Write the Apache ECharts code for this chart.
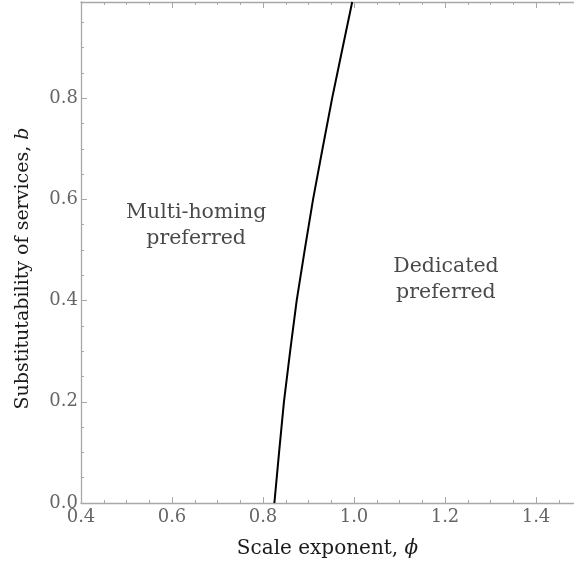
<!DOCTYPE html>
<html>
<head>
<meta charset="utf-8">
<script src="https://cdn.jsdelivr.net/npm/echarts@6/dist/echarts.min.js"></script>
<style>
  html, body { margin: 0; padding: 0; background: #fff; }
  #main { width: 574px; height: 571px; }
</style>
</head>
<body>
<div id="main"></div>
<script>
// boundary curve, b (substitutability) vs phi (scale exponent)
var boundaryB = [0, 0.2, 0.4, 0.6, 0.8, 0.99];
var boundaryPhi = [0.825, 0.846, 0.874, 0.910, 0.952, 0.996];

// region labels
var regionNames = ["Multi-homing\npreferred", "Dedicated\npreferred"];
var regionPhi = [0.653, 1.202];
var regionB = [0.549, 0.441];

var xMin = 0.4, xMax = 1.4835, yMin = 0, yMax = 0.99;
var FONT = "DejaVu Serif";
var axisGray = "#a8a8a8";
var labelGray = "#666";

var dom = document.getElementById("main");
var myChart = echarts.init(dom, null, { renderer: "canvas" });

function frameAxis(pos, min, max, interval, tickLen, withLine, withLabel) {
  return {
    type: "value",
    position: pos,
    min: min,
    max: max,
    interval: interval,
    axisLine: { show: withLine, onZero: false, lineStyle: { color: axisGray, width: 1.3 } },
    axisTick: { show: true, inside: true, length: tickLen, lineStyle: { color: axisGray, width: 1 } },
    axisLabel: {
      show: withLabel,
      showMaxLabel: false,
      margin: 3,
      fontFamily: FONT,
      fontSize: 18,
      color: labelGray,
      formatter: function (v) { return v.toFixed(1); },
    },
    splitLine: { show: false },
  };
}

var curve = [];
for (var i = 0; i < boundaryB.length; i++) {
  curve.push([boundaryPhi[i], boundaryB[i]]);
}
var labels = [];
for (var j = 0; j < regionNames.length; j++) {
  labels.push({ name: regionNames[j], value: [regionPhi[j], regionB[j]] });
}

function nameStyle(size) {
  return {
    fontFamily: FONT, fontSize: size, color: "#1a1a1a",
    rich: { i: { fontFamily: FONT, fontStyle: "italic", fontSize: size, color: "#1a1a1a" } },
  };
}

var xMain = frameAxis("bottom", xMin, xMax, 0.2, 6, true, true);
xMain.axisLabel.margin = 5;
xMain.name = "Scale exponent, {i|ϕ}";
xMain.nameLocation = "middle";
xMain.nameGap = 36;
xMain.nameTextStyle = nameStyle(20);

var yMain = frameAxis("left", yMin, yMax, 0.2, 6, true, true);
yMain.name = "Substitutability of services, {i|b}";
yMain.nameLocation = "middle";
yMain.nameGap = 48;
yMain.nameTextStyle = echarts.util.merge({ padding: [0, 32, 0, 0] }, nameStyle(19));

option = {
  animation: false,
  backgroundColor: "#fff",
  grid: { left: 81, right: 0, top: 2, bottom: 68, containLabel: false },
  xAxis: [
    xMain,
    frameAxis("bottom", xMin, xMax, 0.05, 3, false, false),
    frameAxis("top", xMin, xMax, 0.2, 6, true, false),
    frameAxis("top", xMin, xMax, 0.05, 3, false, false),
  ],
  yAxis: [
    yMain,
    frameAxis("left", yMin, yMax, 0.05, 3, false, false),
  ],
  series: [
    {
      type: "line",
      xAxisIndex: 0,
      yAxisIndex: 0,
      data: curve,
      symbol: "none",
      smooth: 0.12,
      lineStyle: { color: "#000", width: 2 },
    },
    {
      type: "scatter",
      xAxisIndex: 0,
      yAxisIndex: 0,
      data: labels,
      symbolSize: 0,
      label: {
        show: true,
        position: "inside",
        formatter: "{b}",
        fontFamily: FONT,
        fontSize: 20.5,
        lineHeight: 26,
        color: "#1a1a1a",
        align: "center",
      },
    },
  ],
};

myChart.setOption(option);
</script>
</body>
</html>
